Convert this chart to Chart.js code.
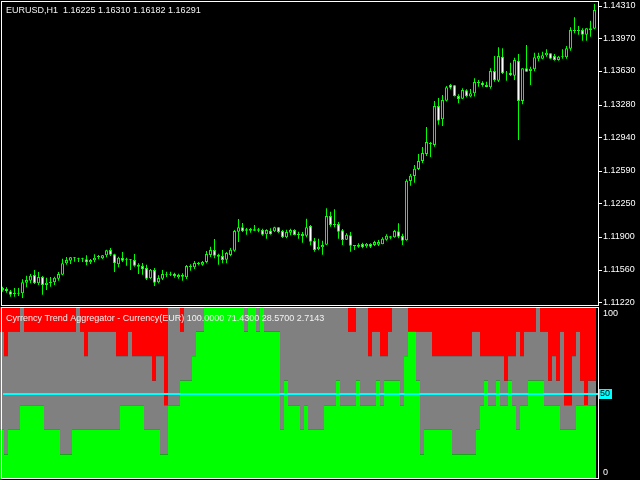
<!DOCTYPE html>
<html>
<head>
<meta charset="utf-8">
<script src="https://cdn.jsdelivr.net/npm/chart.js@4/dist/chart.umd.min.js"></script>
<style>
  html, body { margin: 0; padding: 0; background: #000; width: 640px; height: 480px; overflow: hidden; }
  canvas { position: absolute; left: 0; display: block; }
  #top { top: 0; }
  #bot { top: 306px; }
</style>
</head>
<body>
<canvas id="top" width="640" height="306"></canvas>
<canvas id="bot" width="640" height="174"></canvas>
<script>
// ---------- data (EURUSD H1 candles, oldest first) ----------
const OPEN = [
 1.11368,1.11358,1.11334,1.11306,1.11319,1.11313,1.11423,1.11444,1.11503,1.11417,
 1.11483,1.11399,1.11417,1.11427,1.11465,1.11506,1.11626,1.11653,1.11688,1.11678,
 1.11670,1.11667,1.11636,1.11657,1.11688,1.11678,1.11709,1.11764,1.11719,1.11615,
 1.11681,1.11660,1.11667,1.11660,1.11611,1.11597,1.11576,1.11469,1.11556,1.11427,
 1.11465,1.11511,1.11506,1.11517,1.11480,1.11503,1.11480,1.11584,1.11584,1.11615,
 1.11611,1.11639,1.11712,1.11764,1.11694,1.11702,1.11663,1.11712,1.11757,1.11955,
 1.12001,1.11965,1.11983,1.11965,1.11980,1.11972,1.11928,1.11965,1.11959,1.12001,
 1.11962,1.11896,1.11944,1.11972,1.11917,1.11931,1.11913,1.12014,1.11861,1.11771,
 1.11792,1.11819,1.12118,1.12021,1.12035,1.11969,1.11871,1.11917,1.11816,1.11798,
 1.11827,1.11803,1.11827,1.11816,1.11819,1.11823,1.11871,1.11907,1.11896,1.11959,
 1.11910,1.11865,1.12483,1.12535,1.12608,1.12691,1.12764,1.12879,1.12858,1.13264,
 1.13126,1.13320,1.13484,1.13480,1.13369,1.13341,1.13428,1.13363,1.13397,1.13515,
 1.13507,1.13484,1.13460,1.13629,1.13528,1.13778,1.13605,1.13611,1.13580,1.13736,
 1.13317,1.13657,1.13629,1.13647,1.13757,1.13757,1.13793,1.13814,1.13786,1.13744,
 1.13778,1.13772,1.13862,1.14056,1.14046,1.14056,1.14007,1.14074,1.14070
];
const HIGH = [
 1.11382,1.11375,1.11347,1.11368,1.11368,1.11459,1.11496,1.11514,1.11556,1.11535,
 1.11493,1.11475,1.11483,1.11486,1.11535,1.11673,1.11691,1.11691,1.11691,1.11684,
 1.11684,1.11709,1.11670,1.11719,1.11712,1.11712,1.11767,1.11785,1.11726,1.11694,
 1.11743,1.11684,1.11670,1.11722,1.11626,1.11629,1.11611,1.11566,1.11576,1.11500,
 1.11556,1.11538,1.11538,1.11528,1.11517,1.11521,1.11608,1.11615,1.11650,1.11639,
 1.11650,1.11754,1.11798,1.11879,1.11726,1.11764,1.11743,1.11785,1.11972,1.12087,
 1.12045,1.11993,1.11993,1.12025,1.11993,1.11986,1.11980,1.11990,1.12007,1.12004,
 1.11972,1.11976,1.11986,1.11980,1.11955,1.11952,1.12090,1.12025,1.11889,1.11882,
 1.11861,1.12199,1.12163,1.12188,1.12056,1.11983,1.11938,1.11952,1.11816,1.11834,
 1.11840,1.11837,1.11834,1.11861,1.11868,1.11896,1.11928,1.11910,1.11972,1.12042,
 1.11934,1.12501,1.12556,1.12650,1.12764,1.12837,1.13046,1.12889,1.13317,1.13349,
 1.13379,1.13473,1.13494,1.13484,1.13386,1.13449,1.13438,1.13442,1.13553,1.13535,
 1.13522,1.13518,1.13657,1.13786,1.13876,1.13866,1.13629,1.13716,1.13768,1.13806,
 1.13657,1.13900,1.13674,1.13820,1.13820,1.13830,1.13855,1.13814,1.13806,1.13786,
 1.13855,1.13890,1.14085,1.14189,1.14098,1.14074,1.14074,1.14153,1.14327
];
const LOW = [
 1.11330,1.11319,1.11277,1.11277,1.11285,1.11264,1.11375,1.11417,1.11410,1.11399,
 1.11298,1.11347,1.11382,1.11399,1.11444,1.11500,1.11611,1.11619,1.11642,1.11639,
 1.11639,1.11605,1.11619,1.11636,1.11667,1.11670,1.11688,1.11702,1.11535,1.11584,
 1.11639,1.11601,1.11556,1.11590,1.11514,1.11506,1.11451,1.11462,1.11389,1.11417,
 1.11451,1.11483,1.11493,1.11475,1.11465,1.11444,1.11462,1.11548,1.11566,1.11605,
 1.11601,1.11626,1.11691,1.11678,1.11611,1.11626,1.11626,1.11698,1.11746,1.11847,
 1.11952,1.11924,1.11944,1.11962,1.11948,1.11913,1.11882,1.11924,1.11952,1.11941,
 1.11889,1.11886,1.11917,1.11917,1.11882,1.11840,1.11896,1.11813,1.11746,1.11761,
 1.11715,1.11816,1.12007,1.12001,1.11882,1.11816,1.11868,1.11746,1.11764,1.11788,
 1.11782,1.11788,1.11785,1.11806,1.11806,1.11823,1.11861,1.11876,1.11892,1.11886,
 1.11816,1.11861,1.12434,1.12465,1.12598,1.12671,1.12744,1.12733,1.12840,1.13068,
 1.13056,1.13310,1.13438,1.13363,1.13293,1.13338,1.13356,1.13356,1.13363,1.13466,
 1.13466,1.13460,1.13445,1.13518,1.13515,1.13598,1.13528,1.13577,1.13535,1.12910,
 1.13283,1.13622,1.13484,1.13626,1.13730,1.13751,1.13778,1.13751,1.13736,1.13736,
 1.13757,1.13757,1.13841,1.14022,1.14007,1.13945,1.13945,1.13987,1.14064
];
const CLOSE = [
 1.11347,1.11334,1.11298,1.11319,1.11309,1.11427,1.11451,1.11496,1.11417,1.11483,
 1.11399,1.11423,1.11434,1.11475,1.11514,1.11626,1.11660,1.11688,1.11678,1.11667,
 1.11678,1.11636,1.11660,1.11684,1.11702,1.11709,1.11761,1.11715,1.11626,1.11684,
 1.11653,1.11667,1.11657,1.11601,1.11590,1.11563,1.11465,1.11559,1.11423,1.11472,
 1.11514,1.11500,1.11514,1.11493,1.11503,1.11486,1.11597,1.11601,1.11629,1.11632,
 1.11639,1.11722,1.11764,1.11705,1.11715,1.11660,1.11733,1.11767,1.11962,1.12001,
 1.11959,1.11980,1.11965,1.11980,1.11965,1.11924,1.11972,1.11928,1.12001,1.11952,
 1.11896,1.11952,1.11972,1.11920,1.11931,1.11910,1.12001,1.11851,1.11764,1.11798,
 1.11816,1.12118,1.12025,1.12035,1.11955,1.11868,1.11924,1.11809,1.11803,1.11819,
 1.11792,1.11830,1.11798,1.11847,1.11847,1.11882,1.11913,1.11892,1.11962,1.11903,
 1.11861,1.12486,1.12538,1.12611,1.12691,1.12775,1.12889,1.12869,1.13264,1.13112,
 1.13327,1.13460,1.13455,1.13369,1.13338,1.13431,1.13366,1.13397,1.13515,1.13501,
 1.13480,1.13460,1.13629,1.13532,1.13786,1.13605,1.13611,1.13584,1.13744,1.13317,
 1.13657,1.13622,1.13653,1.13772,1.13786,1.13793,1.13820,1.13757,1.13744,1.13778,
 1.13786,1.13866,1.14056,1.14043,1.14056,1.14007,1.14074,1.14056,1.14265
];
const PRICE_TICKS = [1.14310,1.13970,1.13630,1.13280,1.12940,1.12590,1.12250,1.11900,1.11560,1.11220];
const PRICE_MIN = 1.11191, PRICE_MAX = 1.14348;

// Currency Trend Aggregator histogram (percent), one value per candle
const GREEN = [
 28.57,14.29,28.57,28.57,28.57,42.86,42.86,42.86,42.86,42.86,
 42.86,28.57,28.57,28.57,28.57,14.29,14.29,14.29,28.57,28.57,
 28.57,28.57,28.57,28.57,28.57,28.57,28.57,28.57,28.57,28.57,
 42.86,42.86,42.86,42.86,42.86,42.86,28.57,28.57,28.57,28.57,
 14.29,14.29,42.86,42.86,42.86,57.14,57.14,57.14,71.43,85.71,
 85.71,100,100,100,100,100,100,100,100,100,
 100,85.71,100,100,85.71,100,85.71,85.71,85.71,85.71,
 28.57,57.14,42.86,42.86,42.86,28.57,42.86,28.57,28.57,28.57,
 28.57,42.86,42.86,42.86,57.14,42.86,42.86,42.86,42.86,57.14,
 42.86,42.86,42.86,42.86,57.14,42.86,57.14,57.14,57.14,57.14,
 42.86,71.43,85.71,85.71,57.14,14.29,28.57,28.57,28.57,28.57,
 28.57,28.57,28.57,14.29,14.29,14.29,14.29,14.29,14.29,28.57,
 42.86,57.14,42.86,42.86,57.14,42.86,42.86,57.14,42.86,28.57,
 42.86,42.86,57.14,57.14,57.14,57.14,42.86,42.86,42.86,42.86,
 28.57,28.57,28.57,28.57,42.86,42.86,42.86,42.86,42.86
];
const RED = [
 14.29,28.57,14.29,14.29,14.29,0,14.29,14.29,14.29,14.29,
 14.29,14.29,14.29,14.29,14.29,14.29,14.29,14.29,14.29,0,
 14.29,28.57,14.29,14.29,14.29,14.29,14.29,14.29,14.29,28.57,
 28.57,28.57,14.29,28.57,28.57,28.57,28.57,28.57,42.86,28.57,
 28.57,57.14,0,0,0,14.29,0,0,0,0,
 0,0,0,0,0,0,0,0,0,0,
 0,0,0,0,0,0,0,0,0,0,
 0,0,0,0,0,0,0,0,0,0,
 0,0,0,0,0,0,0,14.29,14.29,0,
 0,0,28.57,14.29,14.29,28.57,28.57,14.29,0,0,
 0,0,14.29,14.29,14.29,14.29,14.29,14.29,28.57,28.57,
 28.57,28.57,28.57,28.57,28.57,28.57,28.57,28.57,14.29,14.29,
 28.57,28.57,28.57,28.57,28.57,28.57,42.86,28.57,28.57,14.29,
 28.57,14.29,14.29,14.29,0,14.29,14.29,42.86,28.57,42.86,
 14.29,57.14,57.14,28.57,14.29,42.86,57.14,42.86,42.86
];
const LEVEL = 50;
const BOT_LABELS = [100, 50, 0];
const HEADER = 'EURUSD,H1  1.16225 1.16310 1.16182 1.16291';
const IND_TITLE = 'Cyrrency Trend Aggregator - Currency(EUR) 100.0000 71.4300 28.5700 2.7143';

const BARS = OPEN.map((_, i) => i);
const FONT = '"Liberation Sans", Arial, sans-serif';

// ---------- top: candlesticks ----------
const topFrame = {
  id: 'topFrame',
  afterDraw(chart) {
    const ctx = chart.ctx, y = chart.scales.y;
    ctx.save();
    ctx.strokeStyle = '#ffffff';
    ctx.lineWidth = 1;
    ctx.strokeRect(1.5, 1.5, 597, 304);
    ctx.fillStyle = '#ffffff';
    PRICE_TICKS.forEach(v => {
      const py = Math.round(y.getPixelForValue(v));
      ctx.fillRect(599, py, 3, 1);
    });
    ctx.font = '9px ' + FONT;
    ctx.textBaseline = 'alphabetic';
    ctx.fillStyle = '#f2f2f2';
    ctx.fillText(HEADER, 6, 13);
    ctx.restore();
  }
};

new Chart(document.getElementById('top'), {
  type: 'bar',
  data: {
    labels: BARS,
    datasets: [
      {
        label: 'wick',
        data: LOW.map((l, i) => [l, HIGH[i]]),
        backgroundColor: '#00ff00',
        borderWidth: 0,
        barThickness: 1,
        inflateAmount: 0,
        grouped: false,
        order: 2
      },
      {
        label: 'body',
        data: OPEN.map((o, i) => [o, CLOSE[i]]),
        backgroundColor: ctx => (CLOSE[ctx.dataIndex] >= OPEN[ctx.dataIndex] ? '#000000' : '#ffffff'),
        borderColor: '#00ff00',
        borderWidth: 1,
        borderSkipped: false,
        barThickness: 3,
        inflateAmount: 0,
        grouped: false,
        order: 1
      }
    ]
  },
  options: {
    responsive: false,
    animation: false,
    devicePixelRatio: 1,
    events: [],
    layout: { padding: { left: 0.5, top: 2, right: 0, bottom: 1 } },
    plugins: { legend: { display: false }, tooltip: { enabled: false } },
    scales: {
      x: { type: 'category', display: false, offset: true, grid: { display: false } },
      y: {
        position: 'right',
        min: PRICE_MIN,
        max: PRICE_MAX,
        grid: { display: false, drawTicks: false },
        border: { display: false },
        afterBuildTicks: s => { s.ticks = PRICE_TICKS.map(v => ({ value: v })); },
        afterFit: s => { s.width = 43.5; s.paddingTop = 0; s.paddingBottom = 0; },
        ticks: {
          color: '#ffffff',
          font: { family: FONT, size: 9 },
          padding: 6.5,
          autoSkip: false,
          callback: v => Number(v).toFixed(5)
        }
      }
    }
  },
  plugins: [topFrame]
});

// ---------- bottom: trend aggregator histogram ----------
const botDecor = {
  id: 'botDecor',
  afterDraw(chart) {
    const ctx = chart.ctx, y = chart.scales.y;
    ctx.save();
    // level line
    const yl = Math.round(y.getPixelForValue(LEVEL));
    ctx.fillStyle = '#00ffff';
    ctx.fillRect(3, yl, 595, 2);
    // frame
    ctx.strokeStyle = '#ffffff';
    ctx.lineWidth = 1;
    ctx.strokeRect(1.5, 1.5, 597, 171);
    // labels
    ctx.font = '9px ' + FONT;
    ctx.textBaseline = 'middle';
    ctx.textAlign = 'left';
    BOT_LABELS.forEach(v => {
      let py = y.getPixelForValue(v);
      if (v === 100) py += 7;
      if (v === 0) py -= 6;
      if (v === LEVEL) {
        ctx.fillStyle = '#00ffff';
        ctx.fillRect(599, yl - 4, 13, 10);
        ctx.fillStyle = '#000000';
        ctx.fillText(String(v), 600, yl + 1);
      } else {
        ctx.fillStyle = '#ffffff';
        ctx.fillText(String(v), 603, py);
      }
    });
    ctx.textBaseline = 'alphabetic';
    ctx.fillStyle = '#f2f2f2';
    ctx.fillText(IND_TITLE, 6, 15);
    ctx.restore();
  }
};

new Chart(document.getElementById('bot'), {
  type: 'bar',
  data: {
    labels: BARS,
    datasets: [
      { label: 'up', data: GREEN, backgroundColor: '#00ff00' },
      { label: 'flat', data: GREEN.map((g, i) => 100 - g - RED[i]), backgroundColor: '#808080' },
      { label: 'down', data: RED, backgroundColor: '#ff0000' }
    ].map(d => Object.assign(d, { borderWidth: 0, barPercentage: 1, categoryPercentage: 1, inflateAmount: 0 }))
  },
  options: {
    responsive: false,
    animation: false,
    devicePixelRatio: 1,
    events: [],
    layout: { padding: { left: 0, top: 1, right: 44, bottom: 1 } },
    plugins: { legend: { display: false }, tooltip: { enabled: false } },
    scales: {
      x: { type: 'category', display: false, stacked: true, offset: true },
      y: { display: false, stacked: true, min: 0, max: 100 }
    }
  },
  plugins: [botDecor]
});
</script>
</body>
</html>
